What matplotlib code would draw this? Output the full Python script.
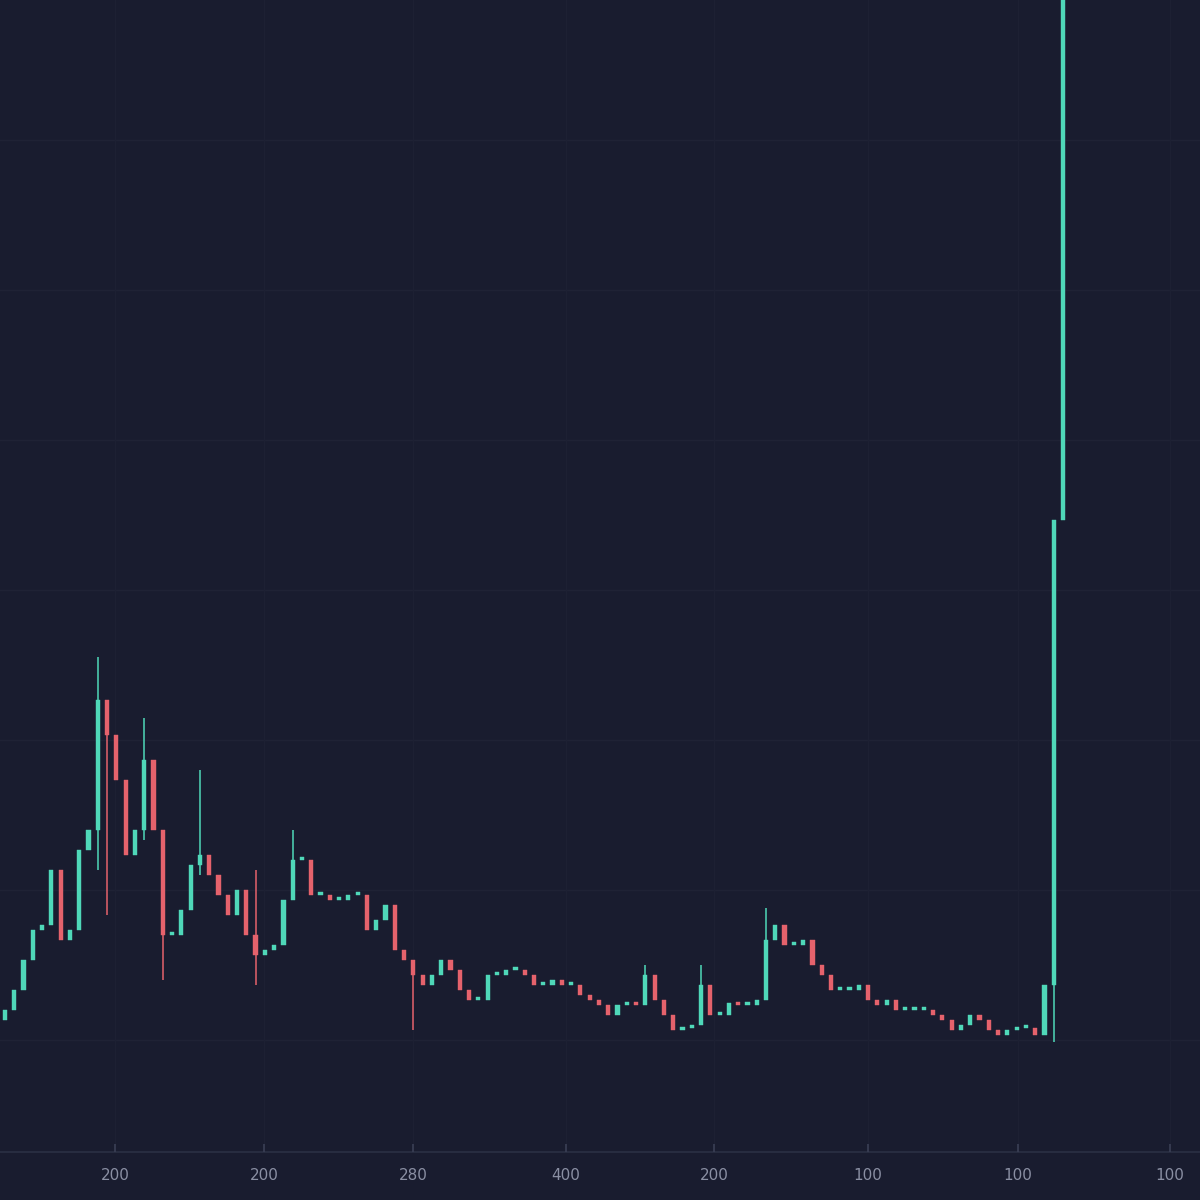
import numpy as np
import matplotlib.pyplot as plt

# closing prices (price scale in screen units)
closes = [190, 210, 240, 270, 275, 330, 260, 270, 350, 370,
          500, 465, 420, 345, 370, 440, 370, 265, 265, 290,
          335, 345, 325, 305, 285, 310, 265, 245, 250, 255,
          300, 340, 340, 305, 305, 300, 300, 305, 305, 270,
          280, 295,
          250, 240, 225, 215, 225, 240, 230, 210, 200, 200,
          225, 225, 230, 230, 225, 215, 215, 220, 215, 215,
          205, 200, 195, 185, 195, 197, 195, 225, 200, 185,
          170, 172, 175, 215, 185, 185, 197, 195, 195, 200,
          260, 275, 255, 255, 260, 235, 225, 210, 210, 210,
          215, 200, 195, 200, 190, 190, 190, 190, 185, 180,
          170, 175, 185, 180, 170, 165, 170, 172, 172, 165,
          215, 680, 1300]
first_open = 180
# notable wicks: index -> (high, low)
wicks = {10: (543, 330), 11: (500, 285), 15: (482, 360), 17: (330, 220),
         21: (430, 325), 27: (330, 215), 31: (370, 300), 44: (240, 170),
         69: (235, 195), 75: (235, 190), 82: (292, 250), 112: (205, 165),
         113: (215, 158)}
tick_labels = ['200', '200', '280', '400', '200', '100', '100', '100']
tick_px = [115, 264, 413, 566, 714, 868, 1018, 1170]

bg = '#191c2f'
up_c = '#4fd8b9'
down_c = '#e5626c'

n = len(closes)
opens = [first_open] + closes[:-1]
step = (1063 - 5) / (n - 1)
x = np.arange(n)

fig = plt.figure(figsize=(12, 12), dpi=100, facecolor=bg)
ax = fig.add_axes([0, 0, 1, 1])
ax.set_facecolor(bg)

for i in range(n):
    o, c = opens[i], closes[i]
    col = up_c if c >= o else down_c
    lo_b, hi_b = min(o, c), max(o, c)
    hi, lo = wicks.get(i, (hi_b, lo_b))
    ax.vlines(x[i], lo, hi, color=col, lw=1.1, zorder=3)
    ax.bar(x[i], max(hi_b - lo_b, 3), bottom=lo_b, width=0.45, color=col,
           edgecolor=col, lw=0.3, zorder=4)

ax.set_xlim(-5 / step, 1195 / step)
ax.set_ylim(0, 1200)

# faint grid
for gy in [160, 310, 460, 610, 760, 910, 1060]:
    ax.axhline(gy, color='#1f2235', lw=1, zorder=1)
for tp in tick_px:
    ax.axvline((tp - 5) / step, ymin=48 / 1200, color='#1d2033', lw=1, zorder=1)
ax.axhline(48, color='#2b3044', lw=1.2, zorder=2)

for tp, lab in zip(tick_px, tick_labels):
    xd = (tp - 5) / step
    ax.vlines(xd, 48, 56, color='#3a3f55', lw=1.2)
    ax.text(xd, 25, lab, color='#8a8fa3', fontsize=11, ha='center', va='center')

ax.axis('off')
fig.savefig('out.png', dpi=100, facecolor=bg)
